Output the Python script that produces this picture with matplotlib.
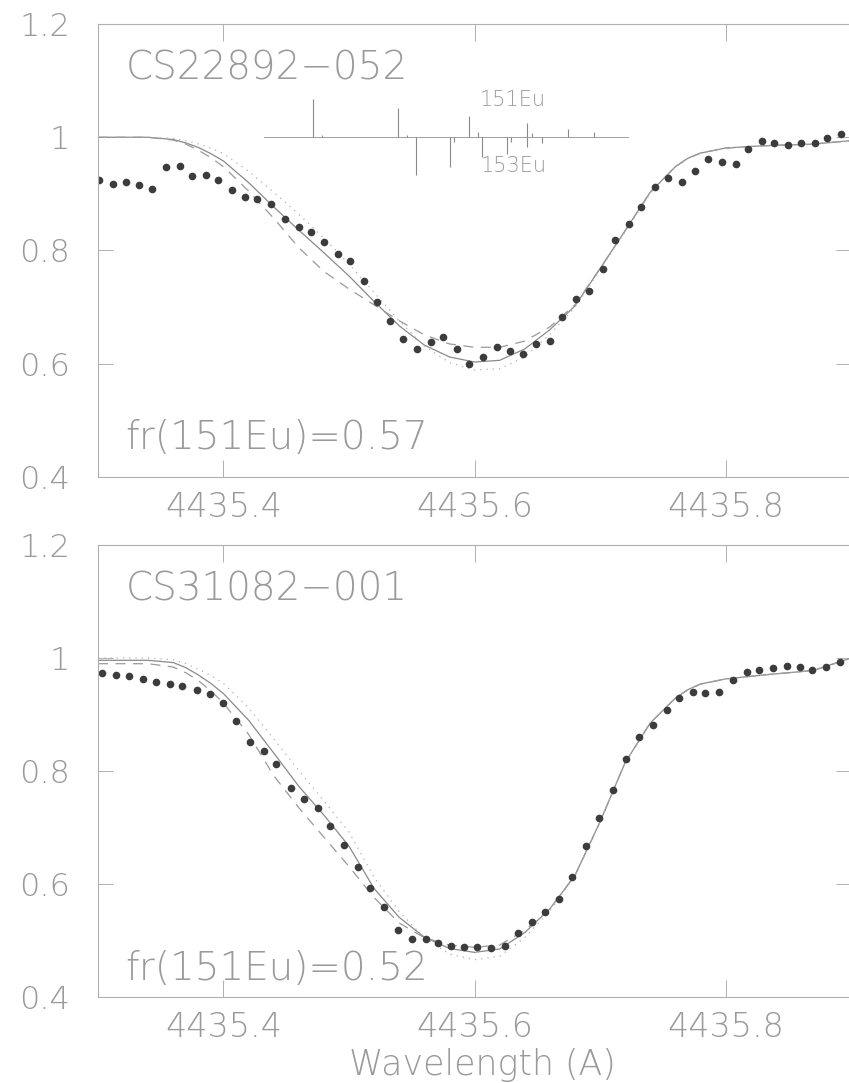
import matplotlib
matplotlib.use('Agg')
import matplotlib.pyplot as plt

plt.rcParams['font.family'] = 'DejaVu Sans'
plt.rcParams['font.weight'] = 200

TXT = '#9a9a9a'
AX = '#b0b0b0'

# --- observed spectra (dots) ---
obs1_wl = [4435.301, 4435.312, 4435.322, 4435.333, 4435.343, 4435.354, 4435.365, 4435.375,
           4435.386, 4435.396, 4435.407, 4435.417, 4435.427, 4435.438, 4435.449, 4435.460,
           4435.470, 4435.480, 4435.491, 4435.501, 4435.512, 4435.522, 4435.533, 4435.543,
           4435.554, 4435.565, 4435.575, 4435.586, 4435.596, 4435.607, 4435.618, 4435.628,
           4435.639, 4435.649, 4435.660, 4435.670, 4435.681, 4435.691, 4435.702, 4435.712,
           4435.723, 4435.733, 4435.744, 4435.754, 4435.765, 4435.776, 4435.786, 4435.797,
           4435.808, 4435.818, 4435.829, 4435.839, 4435.850, 4435.860, 4435.871, 4435.881,
           4435.892]
obs1_fl = [0.925, 0.918, 0.921, 0.916, 0.909, 0.947, 0.949, 0.931,
           0.933, 0.924, 0.907, 0.894, 0.891, 0.883, 0.856, 0.841,
           0.832, 0.815, 0.794, 0.782, 0.747, 0.709, 0.676, 0.644,
           0.626, 0.638, 0.648, 0.626, 0.599, 0.611, 0.629, 0.622,
           0.618, 0.634, 0.641, 0.683, 0.714, 0.729, 0.768, 0.819,
           0.847, 0.877, 0.913, 0.928, 0.921, 0.940, 0.962, 0.956,
           0.952, 0.979, 0.993, 0.989, 0.986, 0.990, 0.990, 0.998,
           1.005]

obs2_wl = [4435.303, 4435.314, 4435.325, 4435.336, 4435.346, 4435.357, 4435.367, 4435.379,
           4435.389, 4435.400, 4435.410, 4435.421, 4435.432, 4435.442, 4435.454, 4435.464,
           4435.475, 4435.485, 4435.496, 4435.507, 4435.517, 4435.528, 4435.539, 4435.550,
           4435.561, 4435.571, 4435.581, 4435.592, 4435.602, 4435.613, 4435.624, 4435.635,
           4435.646, 4435.656, 4435.667, 4435.678, 4435.689, 4435.699, 4435.710, 4435.721,
           4435.731, 4435.742, 4435.753, 4435.763, 4435.774, 4435.784, 4435.795, 4435.806,
           4435.817, 4435.827, 4435.838, 4435.849, 4435.859, 4435.869, 4435.880, 4435.891]
obs2_fl = [0.973, 0.970, 0.968, 0.963, 0.958, 0.954, 0.951, 0.943,
           0.936, 0.921, 0.889, 0.852, 0.836, 0.812, 0.770, 0.750,
           0.735, 0.703, 0.669, 0.631, 0.593, 0.560, 0.519, 0.503,
           0.502, 0.496, 0.490, 0.489, 0.488, 0.486, 0.490, 0.514,
           0.533, 0.551, 0.573, 0.613, 0.668, 0.716, 0.766, 0.821,
           0.861, 0.881, 0.908, 0.929, 0.940, 0.939, 0.940, 0.961,
           0.975, 0.979, 0.982, 0.986, 0.985, 0.978, 0.985, 0.993]

# --- synthetic spectra (solid / dashed / dotted) ---
syn_wl = [4435.30, 4435.34, 4435.36, 4435.37, 4435.38, 4435.39, 4435.40, 4435.42,
          4435.44, 4435.46, 4435.48, 4435.50, 4435.52, 4435.54, 4435.56, 4435.58,
          4435.60, 4435.62, 4435.64, 4435.66, 4435.68, 4435.70, 4435.72, 4435.74,
          4435.76, 4435.77, 4435.78, 4435.80, 4435.83, 4435.87, 4435.90]

syn1_solid = [1.000, 1.000, 0.996, 0.990, 0.982, 0.971, 0.958, 0.920,
              0.877, 0.836, 0.796, 0.755, 0.710, 0.667, 0.633, 0.612,
              0.603, 0.606, 0.626, 0.660, 0.702, 0.768, 0.835, 0.903,
              0.948, 0.963, 0.972, 0.981, 0.985, 0.988, 0.994]
syn1_dash = [1.000, 1.000, 0.995, 0.988, 0.977, 0.964, 0.948, 0.905,
             0.857, 0.805, 0.763, 0.732, 0.704, 0.676, 0.651, 0.635,
             0.629, 0.629, 0.640, 0.665, 0.704, 0.768, 0.835, 0.903,
             0.948, 0.963, 0.972, 0.981, 0.985, 0.988, 0.994]
syn1_dot = [1.000, 1.000, 0.998, 0.994, 0.988, 0.981, 0.971, 0.940,
            0.903, 0.864, 0.822, 0.776, 0.726, 0.676, 0.631, 0.602,
            0.589, 0.591, 0.612, 0.652, 0.699, 0.766, 0.833, 0.901,
            0.947, 0.962, 0.972, 0.981, 0.985, 0.988, 0.994]

syn2_solid = [0.996, 0.996, 0.992, 0.983, 0.970, 0.955, 0.937, 0.890,
              0.832, 0.773, 0.722, 0.667, 0.592, 0.541, 0.506, 0.486,
              0.479, 0.485, 0.514, 0.556, 0.615, 0.710, 0.815, 0.885,
              0.929, 0.944, 0.954, 0.963, 0.970, 0.978, 1.000]
syn2_dash = [0.990, 0.990, 0.984, 0.974, 0.960, 0.942, 0.920, 0.865,
             0.792, 0.735, 0.683, 0.631, 0.576, 0.531, 0.505, 0.492,
             0.488, 0.492, 0.518, 0.556, 0.615, 0.710, 0.815, 0.885,
             0.929, 0.944, 0.954, 0.963, 0.970, 0.978, 1.000]
syn2_dot = [1.000, 1.000, 0.997, 0.990, 0.980, 0.969, 0.955, 0.912,
            0.857, 0.801, 0.747, 0.692, 0.612, 0.551, 0.505, 0.476,
            0.466, 0.472, 0.505, 0.552, 0.615, 0.710, 0.815, 0.885,
            0.929, 0.944, 0.954, 0.963, 0.970, 0.978, 1.000]

# --- hyperfine components (stick diagram, top panel) ---
hfs_base = [4435.432, 4435.722]
eu151_wl = [4435.4716, 4435.4782, 4435.5393, 4435.5460, 4435.5954, 4435.6026,
            4435.6416, 4435.6456, 4435.6747, 4435.6952]
eu151_h = [0.067, 0.004, 0.051, 0.004, 0.037, 0.009, 0.025, 0.007, 0.015, 0.009]
eu153_wl = [4435.5532, 4435.5805, 4435.5837, 4435.6062, 4435.6261, 4435.6288,
            4435.6416, 4435.6535]
eu153_h = [0.067, 0.053, 0.008, 0.035, 0.029, 0.008, 0.018, 0.011]

stars = ['CS22892\u2212052', 'CS31082\u2212001']
fracs = ['fr(151Eu)=0.57', 'fr(151Eu)=0.52']
frac_y = [0.469, 0.450]

xticks = [4435.4, 4435.6, 4435.8]
xticklabels = ['4435.4', '4435.6', '4435.8']
yticks = [0.4, 0.6, 0.8, 1.0, 1.2]
yticklabels = ['0.4', '0.6', '0.8', '1', '1.2']

fig = plt.figure(figsize=(8.49, 10.83), dpi=100)
ax1 = fig.add_axes([0.1154, 0.5596, 0.887, 0.4182])
ax2 = fig.add_axes([0.1154, 0.0794, 0.887, 0.4173])

panels = [(ax1, obs1_wl, obs1_fl, syn1_solid, syn1_dash, syn1_dot),
          (ax2, obs2_wl, obs2_fl, syn2_solid, syn2_dash, syn2_dot)]

for i, (ax, ow, of, s, d, o) in enumerate(panels):
    ax.plot(syn_wl, s, color='#8a8a8a', lw=0.9, ls='-')
    ax.plot(syn_wl, d, color='#9a9a9a', lw=0.9, ls=(0, (8, 6)))
    ax.plot(syn_wl, o, color='#b0b0b0', lw=0.9, ls=(0, (1, 4)))
    ax.plot(ow, of, 'o', color='#3c3c3c', ms=5.5, mec='none')

    ax.set_xlim(4435.3, 4435.9)
    ax.set_ylim(0.4, 1.2)
    ax.set_xticks(xticks)
    ax.set_xticklabels(xticklabels)
    ax.set_yticks(yticks)
    ax.set_yticklabels(yticklabels)
    ax.tick_params(axis='x', direction='in', length=12, width=0.7, color=AX,
                   top=True, labelsize=24, labelcolor=TXT, pad=10)
    ax.tick_params(axis='y', direction='in', length=11, width=0.7, color=AX,
                   right=True, labelsize=23, labelcolor=TXT, pad=20)
    for sp in ax.spines.values():
        sp.set_color(AX)
        sp.set_linewidth(0.8)

    ax.text(4435.322, 1.122, stars[i], fontsize=28, color=TXT, va='center', ha='left')
    ax.text(4435.322, frac_y[i], fracs[i], fontsize=28, color=TXT, va='center', ha='left')

# stick diagram of hyperfine components
ax1.plot(hfs_base, [1.0, 1.0], color='#a0a0a0', lw=0.7)
ax1.vlines(eu151_wl, 1.0, [1.0 + h for h in eu151_h], color='#8a8a8a', lw=0.8)
ax1.vlines(eu153_wl, [1.0 - h for h in eu153_h], 1.0, color='#8a8a8a', lw=0.8)
ax1.text(4435.604, 1.066, '151Eu', fontsize=15, color=TXT, va='center', ha='left')
ax1.text(4435.605, 0.950, '153Eu', fontsize=15, color=TXT, va='center', ha='left')

ax2.text(0.511, -0.150, 'Wavelength (A)', transform=ax2.transAxes, fontsize=25,
         color=TXT, ha='center', va='center')

fig.savefig('out.png', dpi=100)
